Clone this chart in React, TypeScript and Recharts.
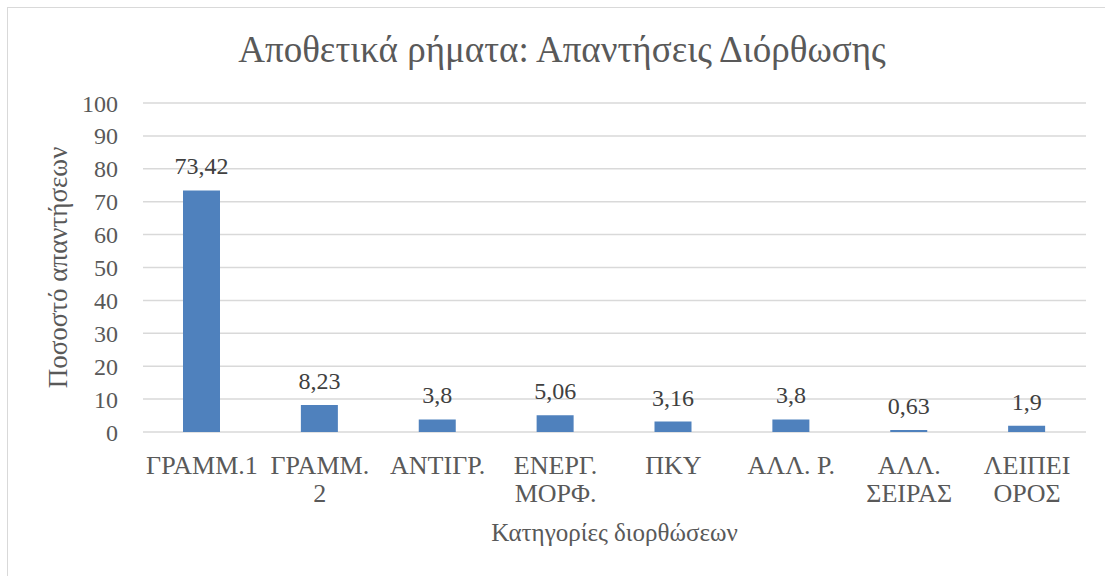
import React from "react";
import { Bar, BarChart, CartesianGrid, LabelList, XAxis, YAxis } from "recharts";

// Categories of corrections (line breaks as in the original axis)
const categories = ["ΓΡΑΜΜ.1", "ΓΡΑΜΜ. 2", "ΑΝΤΙΓΡ.", "ΕΝΕΡΓ. ΜΟΡΦ.", "ΠΚΥ", "ΑΛΛ. Ρ.", "ΑΛΛ. ΣΕΙΡΑΣ", "ΛΕΙΠΕΙ ΟΡΟΣ"];
const categoryLines = [["ΓΡΑΜΜ.1"], ["ΓΡΑΜΜ.", "2"], ["ΑΝΤΙΓΡ."], ["ΕΝΕΡΓ.", "ΜΟΡΦ."], ["ΠΚΥ"], ["ΑΛΛ. Ρ."], ["ΑΛΛ.", "ΣΕΙΡΑΣ"], ["ΛΕΙΠΕΙ", "ΟΡΟΣ"]];
const percentages = [73.42, 8.23, 3.8, 5.06, 3.16, 3.8, 0.63, 1.9];
const yTicks = [0, 10, 20, 30, 40, 50, 60, 70, 80, 90, 100];

const FONT = "'Liberation Serif', 'Times New Roman', serif";
const TEXT = "#595959";
const BAR = "#4F81BD";

const data = categories.map((c, i) => ({ name: c, value: percentages[i] }));

function CategoryTick(props: { x?: number; y?: number; index?: number }) {
  const lines = categoryLines[props.index ?? 0] ?? [];
  return (
    <text x={props.x} y={(props.y ?? 0) + 34} textAnchor="middle" fill={TEXT} fontSize={26} fontFamily={FONT}>
      {lines.map((l, i) => (
        <tspan key={i} x={props.x} dy={i === 0 ? 0 : 28}>
          {l}
        </tspan>
      ))}
    </text>
  );
}

export default function App() {
  return (
    <div style={{ position: "fixed", left: 0, top: 0, width: 1105, height: 576, background: "#fff", overflow: "hidden" }}>
      <div style={{ position: "absolute", left: 7, top: 7, width: 1200, height: 700, borderTop: "1px solid #d9d9d9", borderLeft: "1px solid #d9d9d9" }} />
      <div
        style={{
          position: "absolute",
          left: 0,
          width: 1124,
          top: 29,
          textAlign: "center",
          fontFamily: FONT,
          fontSize: 37,
          color: TEXT,
          lineHeight: "42px"
        }}
      >
        Αποθετικά ρήματα: Απαντήσεις Διόρθωσης
      </div>
      <BarChart width={1105} height={576} data={data} margin={{ top: 103, right: 19, left: 0, bottom: 0 }} style={{ position: "absolute", left: 0, top: 0 }}>
        <CartesianGrid vertical={false} stroke="#d9d9d9" strokeWidth={1.5} />
        <XAxis
          dataKey="name"
          axisLine={false}
          tickLine={false}
          height={144}
          interval={0}
          tick={<CategoryTick />}
          label={{ value: "Κατηγορίες διορθώσεων", position: "insideBottom", offset: 35, fill: TEXT, fontSize: 25, fontFamily: FONT }}
        />
        <YAxis
          width={143}
          domain={[0, 100]}
          ticks={yTicks}
          axisLine={false}
          tickLine={false}
          tickSize={0}
          tickMargin={25}
          tick={{ fill: TEXT, fontSize: 24, fontFamily: FONT }}
          label={{ value: "Ποσοστό απαντήσεων", angle: -90, position: "center", dx: -14, fill: TEXT, fontSize: 27, fontFamily: FONT }}
        />
        <Bar dataKey="value" fill={BAR} barSize={37} isAnimationActive={false}>
          <LabelList
            dataKey="value"
            position="top"
            offset={16}
            formatter={(v: number) => String(v).replace(".", ",")}
            style={{ fill: "#404040", fontSize: 24, fontFamily: FONT }}
          />
        </Bar>
      </BarChart>
    </div>
  );
}
